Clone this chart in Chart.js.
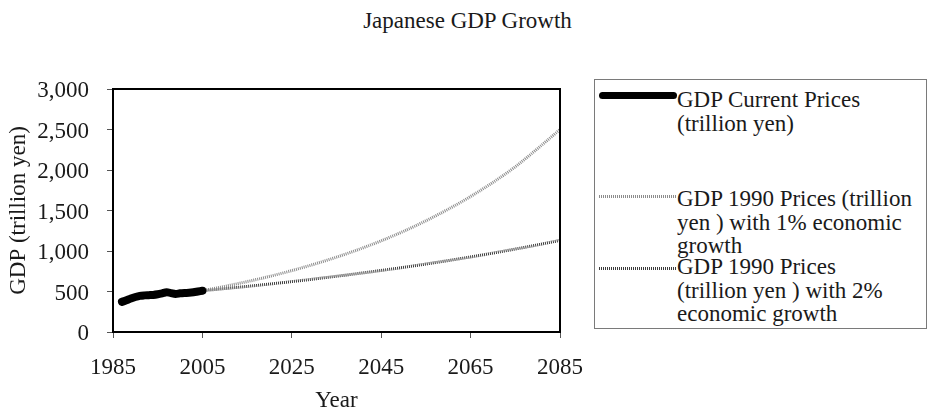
<!DOCTYPE html>
<html>
<head>
<meta charset="utf-8">
<title>Japanese GDP Growth</title>
<script src="https://cdn.jsdelivr.net/npm/chart.js@4.4.1/dist/chart.umd.min.js"></script>
<style>
  html, body { margin: 0; padding: 0; background: #fff; overflow: hidden; }
  #wrap { position: relative; width: 927px; height: 415px; font-family: "Liberation Serif", "Times New Roman", serif; color: #1a1a1a; }
  #gdpChart { position: absolute; left: 0; top: 0; }
  #chartTitle { position: absolute; left: 4px; top: 8px; width: 927px; text-align: center; font-size: 23px; line-height: 26px; }
  #legend { position: absolute; left: 594px; top: 79px; width: 333px; height: 250px; box-sizing: border-box; border: 1px solid #7a7a7a; background: #fff; }
  .lg-sample { position: absolute; left: 4px; width: 78px; }
  .lg-text { position: absolute; left: 82px; font-size: 23px; line-height: 23.5px; white-space: nowrap; }
</style>
</head>
<body>
<div id="wrap">
  <div id="chartTitle">Japanese GDP Growth</div>
  <canvas id="gdpChart" width="927" height="415"></canvas>
  <div id="legend"></div>
</div>
<script>
// Nominal GDP, trillion yen
const histYears = [1987, 1988, 1989, 1990, 1991, 1992, 1993, 1994, 1995, 1996,
                   1997, 1998, 1999, 2000, 2001, 2002, 2003, 2004, 2005];
const histGdp = [372, 392, 414, 432, 446, 452, 455, 458, 466, 478,
                 492, 480, 470, 478, 482, 484, 490, 500, 510];

// Projections in 1990 prices, trillion yen
const projYears = [2005, 2010, 2015, 2020, 2025, 2030, 2035, 2040, 2045,
                   2050, 2055, 2060, 2065, 2070, 2075, 2080, 2085];
const projUpper = [510, 563, 622, 686, 758, 837, 924, 1020, 1126,
                   1243, 1373, 1516, 1673, 1847, 2040, 2265, 2500];
const projLower = [510, 536, 563, 592, 622, 654, 688, 723, 760,
                   798, 839, 882, 927, 974, 1024, 1076, 1131];

const seriesLabels = [
  ['GDP Current Prices', '(trillion yen)'],
  ['GDP 1990 Prices (trillion', 'yen ) with 1% economic', 'growth'],
  ['GDP 1990 Prices', '(trillion yen ) with 2%', 'economic growth']
];

const xTicks = [1985, 2005, 2025, 2045, 2065, 2085];
const yMax = 3000;
const yStep = 500;

const SERIF = '"Liberation Serif", "Times New Roman", serif';

function toPoints(xs, ys) {
  return xs.map((x, i) => ({ x: x, y: ys[i] }));
}

// black frame round the plot area
const plotFrame = {
  id: 'plotFrame',
  afterDatasetsDraw(chart) {
    const { ctx, chartArea: a } = chart;
    ctx.save();
    ctx.strokeStyle = '#000';
    ctx.lineWidth = 2;
    ctx.strokeRect(a.left, a.top, a.right - a.left, a.bottom - a.top);
    ctx.restore();
  }
};

const chart = new Chart(document.getElementById('gdpChart'), {
  type: 'line',
  data: {
    datasets: [
      {
        label: seriesLabels[0].join(' '),
        data: toPoints(histYears, histGdp),
        borderColor: '#000',
        borderWidth: 8,
        borderCapStyle: 'round',
        borderJoinStyle: 'round',
        tension: 0.3,
        pointRadius: 0
      },
      {
        label: seriesLabels[1].join(' '),
        data: toPoints(projYears, projUpper),
        borderColor: '#8c8c8c',
        borderWidth: 3,
        borderDash: [1, 1],
        cubicInterpolationMode: 'monotone',
        pointRadius: 0
      },
      {
        label: seriesLabels[2].join(' '),
        data: toPoints(projYears, projLower),
        borderColor: '#3c3c3c',
        borderWidth: 3,
        borderDash: [1, 1],
        cubicInterpolationMode: 'monotone',
        pointRadius: 0
      }
    ]
  },
  options: {
    responsive: false,
    animation: false,
    devicePixelRatio: 1,
    layout: { padding: { top: 89, right: 367, bottom: 0, left: 0 } },
    plugins: {
      legend: { display: false },
      tooltip: { enabled: false }
    },
    scales: {
      x: {
        type: 'linear',
        min: xTicks[0],
        max: xTicks[xTicks.length - 1],
        afterBuildTicks: s => { s.ticks = xTicks.map(v => ({ value: v })); },
        afterFit: s => { s.height = 83; },
        border: { display: false },
        grid: { drawOnChartArea: false, drawTicks: true, tickLength: 6, color: '#555' },
        ticks: {
          color: '#1a1a1a',
          padding: 16,
          maxRotation: 0,
          font: { family: SERIF, size: 23 },
          callback: v => String(v)
        },
        title: {
          display: true,
          text: 'Year',
          color: '#1a1a1a',
          padding: { top: 0, bottom: 0 },
          font: { family: SERIF, size: 23 }
        }
      },
      y: {
        min: 0,
        max: yMax,
        afterFit: s => { s.width = 113; },
        border: { display: false },
        grid: { drawOnChartArea: false, drawTicks: true, tickLength: 6, color: '#555' },
        ticks: {
          stepSize: yStep,
          color: '#1a1a1a',
          padding: 18,
          labelOffset: 2,
          font: { family: SERIF, size: 23 }
        },
        title: {
          display: true,
          text: 'GDP (trillion yen)',
          color: '#1a1a1a',
          padding: { top: 5, bottom: 0 },
          font: { family: SERIF, size: 23 }
        }
      }
    }
  },
  plugins: [plotFrame]
});

// legend box to the right of the plot, built from the datasets
function buildLegend(chart) {
  const box = document.getElementById('legend');
  const sampleTops = [15, 115, 187];
  const textTops = [8, 107, 175];
  chart.data.datasets.forEach((ds, i) => {
    const sample = document.createElement('div');
    sample.className = 'lg-sample';
    if (ds.borderDash && ds.borderDash.length) {
      sample.style.top = sampleTops[i] + 'px';
      sample.style.height = '3px';
      sample.style.background =
        `repeating-linear-gradient(90deg, ${ds.borderColor} 0 1px, transparent 1px 2px)`;
    } else {
      sample.style.top = (sampleTops[i] - 3) + 'px';
      sample.style.height = '7px';
      sample.style.borderRadius = '4px';
      sample.style.background = ds.borderColor;
    }
    box.appendChild(sample);

    const text = document.createElement('div');
    text.className = 'lg-text';
    text.style.top = textTops[i] + 'px';
    text.innerHTML = seriesLabels[i].join('<br>');
    box.appendChild(text);
  });
}

buildLegend(chart);
</script>
</body>
</html>
